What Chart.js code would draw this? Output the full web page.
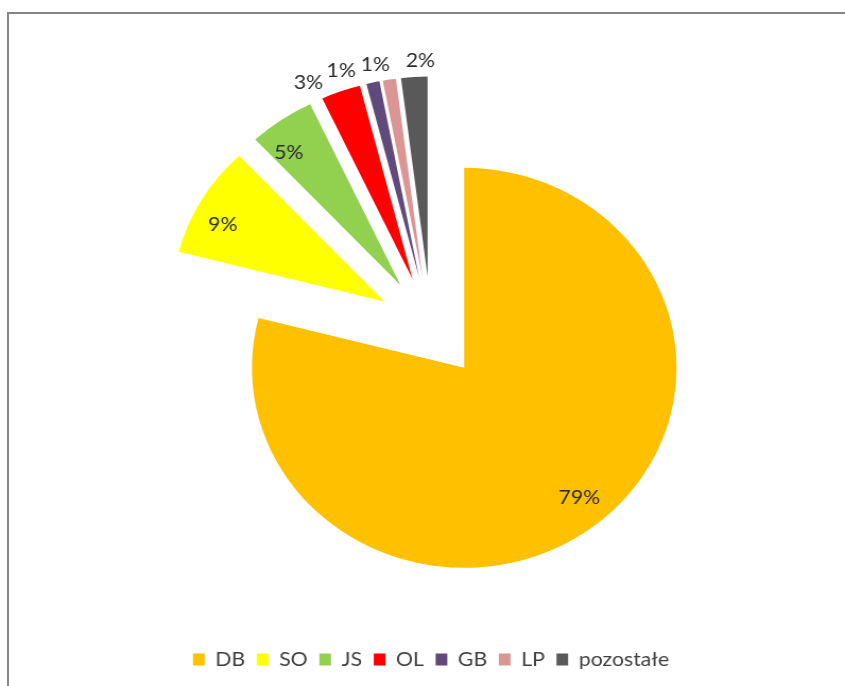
<!DOCTYPE html>
<html>
<head>
<meta charset="utf-8">
<script src="https://cdn.jsdelivr.net/npm/chart.js@4"></script>
<style>
  html, body { margin: 0; padding: 0; background: #fff; overflow: hidden; }
  #wrap { position: relative; width: 845px; height: 686px; overflow: hidden; }
  #frame { position: absolute; left: 7px; top: 12px; width: 900px; height: 800px;
           border-left: 2px solid #868686; border-top: 2px solid #868686; }
  #c { position: absolute; left: 0; top: 0; }
</style>
</head>
<body>
<div id="wrap">
  <div id="frame"></div>
  <!-- bitmap is slightly narrower than its box, so the pie is drawn a little wide -->
  <canvas id="c" width="796" height="686" style="width:845px;height:686px"></canvas>
</div>
<script>
const categories = ['DB', 'SO', 'JS', 'OL', 'GB', 'LP', 'pozostałe'];
const shares = [79, 9, 5, 3, 1, 1, 2];
const sliceColors = ['#FFC000', '#FFFF00', '#92D050', '#FF0000', '#604A7B', '#D99694', '#595959'];

// where each percentage sits: distance from the slice apex (share of radius) and an angular nudge (deg)
const labelRadius = [0.845, 0.855, 0.85, 1.105, 1.10, 1.088, 1.082];
const labelNudge = [-2.1, -3.5, -4.1, -6.6, -6.9, -2.8, 1.8];
const EXPLODE = 51;

const explodePlugin = {
  id: 'explode',
  beforeDatasetDraw(chart, args) {
    const ctx = chart.ctx;
    args.meta.data.forEach(arc => {
      const mid = (arc.startAngle + arc.endAngle) / 2;
      ctx.save();
      ctx.translate(Math.cos(mid) * EXPLODE, Math.sin(mid) * EXPLODE);
      arc.draw(ctx);
      ctx.restore();
    });
    return false;
  },
  afterDatasetsDraw(chart) {
    const ctx = chart.ctx;
    const meta = chart.getDatasetMeta(0);
    ctx.save();
    ctx.font = '20px Lato';
    ctx.fillStyle = '#2b2b2b';
    ctx.textAlign = 'center';
    ctx.textBaseline = 'alphabetic';
    meta.data.forEach((arc, i) => {
      const mid = (arc.startAngle + arc.endAngle) / 2;
      const ax = arc.x + Math.cos(mid) * EXPLODE;
      const ay = arc.y + Math.sin(mid) * EXPLODE;
      const a = mid + labelNudge[i] * Math.PI / 180;
      const r = arc.outerRadius * labelRadius[i];
      ctx.fillText(shares[i] + '%', ax + Math.cos(a) * r, ay + Math.sin(a) * r + 7);
    });
    ctx.restore();
  }
};

new Chart(document.getElementById('c'), {
  type: 'pie',
  data: {
    labels: categories,
    datasets: [{
      data: shares,
      backgroundColor: sliceColors,
      borderWidth: 0
    }]
  },
  options: {
    responsive: false,
    devicePixelRatio: 1,
    animation: false,
    radius: 200,
    layout: { padding: { left: 16, right: 0, top: 16.5, bottom: 6.5 } },
    plugins: {
      tooltip: { enabled: false },
      legend: {
        position: 'bottom',
        labels: {
          font: { family: 'Lato', size: 20 },
          color: '#404040',
          boxWidth: 11,
          boxHeight: 12,
          padding: 11
        }
      }
    }
  },
  plugins: [explodePlugin]
});
</script>
</body>
</html>
